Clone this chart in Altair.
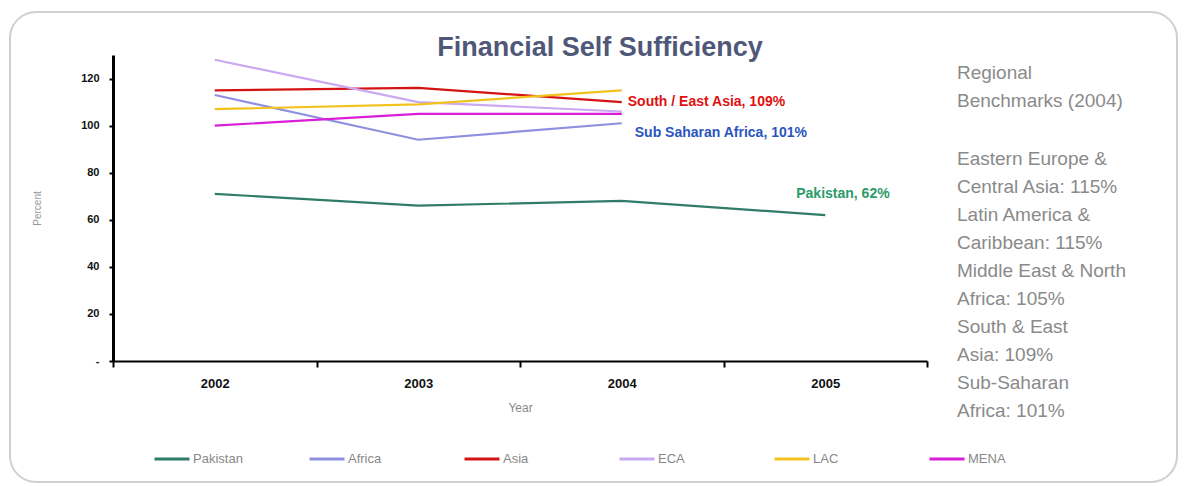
import altair as alt
import pandas as pd

years = ["2002", "2003", "2004", "2005"]
series = ["Pakistan", "Africa", "Asia", "ECA", "LAC", "MENA"]
pakistan = [71, 66, 68, 62]
africa = [113, 94, 101]
asia = [115, 116, 110]
eca = [128, 110, 106]
lac = [107, 109, 115]
mena = [100, 105, 105]
colors = ["#2f7c68", "#8f8fe0", "#d41414", "#caa8f2", "#f2c21e", "#d81ed8"]

y_ticks = [0, 20, 40, 60, 80, 100, 120]

panel_head = ["Regional", "Benchmarks (2004)"]
panel_body = [
    "Eastern Europe &", "Central Asia: 115%",
    "Latin America &", "Caribbean: 115%",
    "Middle East & North", "Africa: 105%",
    "South & East", "Asia: 109%",
    "Sub-Saharan", "Africa: 101%",
]

ann_text = ["South / East Asia,  109%", "Sub Saharan Africa, 101%", "Pakistan,  62%"]
ann_year = ["2004", "2004", "2005"]
ann_value = [110, 97, 71]
ann_color = ["#e01010", "#2a55c0", "#2a9a6a"]
ann_dx = [6, 13, -29]

rows = []
for name, vals in zip(series, [pakistan, africa, asia, eca, lac, mena]):
    for yr, v in zip(years, vals):
        rows.append({"series": name, "year": yr, "value": v})
df = pd.DataFrame(rows)

FONT = "Liberation Sans Narrow, Liberation Sans, Arial"

x_scale = alt.Scale(type="band", domain=years, paddingInner=0, paddingOuter=0)

x_enc = alt.X(
    "year:O",
    scale=x_scale,
    bandPosition=0.5,
    axis=alt.Axis(
        title="Year", tickBand="extent", domainColor="black", domainWidth=2,
        tickColor="black", tickWidth=2, tickSize=6, labelAngle=0,
        labelFont=FONT, labelFontSize=13, labelFontWeight="bold", labelColor="#111",
        labelPadding=10, titleFont=FONT, titleFontSize=12, titleColor="#888",
        titleFontWeight="normal", titlePadding=12,
    ),
)
y_enc = alt.Y(
    "value:Q",
    scale=alt.Scale(domain=[0, 130], nice=False, zero=True),
    axis=alt.Axis(
        title="Percent", values=y_ticks, grid=False,
        labelExpr="datum.value == 0 ? '-' : datum.label",
        domainColor="black", domainWidth=3, tickColor="black", tickWidth=2,
        tickSize=4, labelFont=FONT, labelFontSize=11, labelFontWeight="bold",
        labelColor="#111", labelPadding=10, titleFont=FONT, titleFontSize=10,
        titleColor="#999", titleFontWeight="normal", titlePadding=38,
    ),
)

lines = alt.Chart(df).mark_line(strokeWidth=2.2).encode(
    x=x_enc,
    y=y_enc,
    color=alt.Color(
        "series:N",
        scale=alt.Scale(domain=series, range=colors),
        sort=series,
        legend=alt.Legend(
            title=None, orient="none", legendX=40, legendY=385,
            direction="horizontal", columns=6, gridAlign="all",
            symbolType="stroke", symbolSize=1225, symbolStrokeWidth=3,
            labelFont=FONT, labelFontSize=13, labelColor="#888",
            columnPadding=60, labelOffset=2,
        ),
    ),
    order=alt.Order("year:O"),
)

ann_layers = []
for t, yr, v, c, dx in zip(ann_text, ann_year, ann_value, ann_color, ann_dx):
    d = pd.DataFrame({"year": [yr], "value": [v], "label": [t]})
    ann_layers.append(
        alt.Chart(d).mark_text(
            align="left", baseline="middle", dx=dx, font=FONT,
            fontSize=14, fontWeight="bold", color=c,
        ).encode(
            x=alt.X("year:O", scale=x_scale, bandPosition=0.5),
            y="value:Q",
            text="label:N",
        )
    )

one = pd.DataFrame({"k": [0]})

title = alt.Chart(one).mark_text(
    text="Financial Self Sufficiency", font="Liberation Sans, Arial",
    fontSize=27, fontWeight="bold", color="#4f5878", align="center",
    baseline="alphabetic",
).encode(x=alt.value(487), y=alt.value(1))

head = alt.Chart(one).mark_text(
    text=panel_head, font=FONT, fontSize=19, color="#8a8a8a", align="left",
    baseline="alphabetic", lineHeight=28,
).encode(x=alt.value(844), y=alt.value(24))

body = alt.Chart(one).mark_text(
    text=panel_body, font=FONT, fontSize=19, color="#8a8a8a", align="left",
    baseline="alphabetic", lineHeight=28,
).encode(x=alt.value(844), y=alt.value(110))

border = alt.Chart(one).mark_rect(
    filled=False, stroke="#cfcfcf", strokeWidth=2, cornerRadius=26,
).encode(x=alt.value(-103), x2=alt.value(1064), y=alt.value(-43), y2=alt.value(427))

chart = alt.layer(border, lines, *ann_layers, title, head, body).properties(
    width=814, height=306,
    autosize=alt.AutoSizeParams(type="none"),
    padding={"left": 113, "top": 55, "right": 260, "bottom": 125},
    background="white",
).configure_view(stroke=None)

chart.save("out.html", embed_options={"renderer": "svg", "actions": False})
